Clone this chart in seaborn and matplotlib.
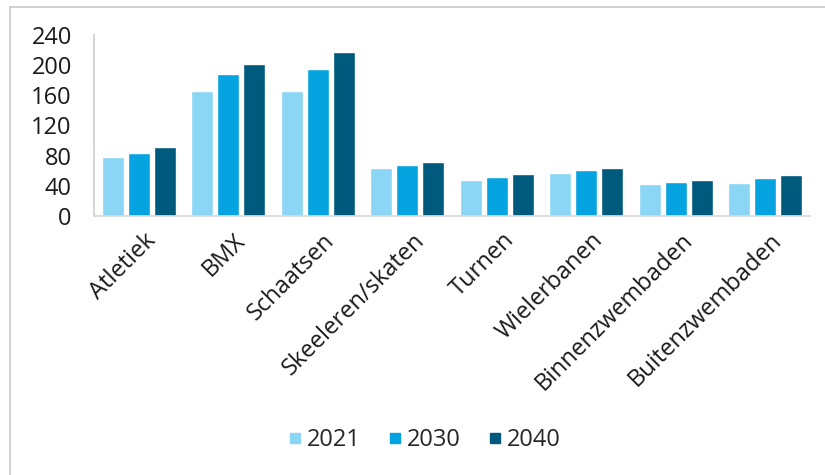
import matplotlib
matplotlib.use("Agg")
import matplotlib.pyplot as plt
import matplotlib.transforms as mtransforms
import seaborn as sns
import pandas as pd
from matplotlib.lines import Line2D
from matplotlib.patches import Rectangle

categories = ["Atletiek", "BMX", "Schaatsen", "Skeeleren/skaten", "Turnen",
              "Wielerbanen", "Binnenzwembaden", "Buitenzwembaden"]
years = ["2021", "2030", "2040"]
v2021 = [78, 166, 166, 63, 48, 57, 42, 44]
v2030 = [84, 188, 195, 68, 52, 61, 45, 50]
v2040 = [92, 202, 217, 72, 56, 64, 48, 55]
yticks = [0, 40, 80, 120, 160, 200, 240]
colors = ["#8AD6F4", "#05A3E0", "#005A7E"]

rows = []
for yr, vals in zip(years, [v2021, v2030, v2040]):
    for c, v in zip(categories, vals):
        rows.append({"cat": c, "year": yr, "val": v})
df = pd.DataFrame(rows)

sns.set_theme(style="white")
plt.rcParams["font.family"] = ["Open Sans", "DejaVu Sans"]

fig = plt.figure(figsize=(8.25, 4.75), dpi=100)
ax = fig.add_axes([94/825, 1 - 216/475, (810-94)/825, (216-35)/475])

sns.barplot(data=df, x="cat", y="val", hue="year", palette=colors,
            order=categories, hue_order=years, width=0.87, gap=0.16,
            ax=ax, legend=False, saturation=1)

ax.set_ylim(0, 240)
ax.set_xlim(-0.5, len(categories) - 0.5)
ax.set_yticks(yticks)
ax.set_yticklabels([str(t) for t in yticks], fontsize=17, color="#1a1a1a")
ax.set_xticks(range(len(categories)))
ax.set_xticklabels(categories, rotation=45, ha="right", rotation_mode="anchor",
                   fontsize=17, color="#1a1a1a")
ax.tick_params(axis="x", pad=9, length=0)
ax.tick_params(axis="y", pad=16, length=0)
offset = mtransforms.ScaledTranslation(5/100, 0, fig.dpi_scale_trans)
for lbl in ax.get_xticklabels():
    lbl.set_transform(lbl.get_transform() + offset)
ax.set_xlabel("")
ax.set_ylabel("")
for s in ["top", "right"]:
    ax.spines[s].set_visible(False)
ax.spines["left"].set_color("#d0d0d0")
ax.spines["bottom"].set_color("#d8d8d8")

handles = [Line2D([0], [0], marker="s", linestyle="", markersize=7,
                  markerfacecolor=c, markeredgecolor=c) for c in colors]
fig.legend(handles, years, loc="center", bbox_to_anchor=(424/825, 1 - 440/475),
           ncol=3, frameon=False, fontsize=17, handletextpad=0.15,
           columnspacing=1.1, handlelength=0.7)

fig.patches.append(Rectangle((10/825, -0.1), 1.2, 1 - 7/475 + 0.1,
                             transform=fig.transFigure, fill=False,
                             edgecolor="#c8c8c8", linewidth=1.2))

fig.savefig("out.png", dpi=100)
